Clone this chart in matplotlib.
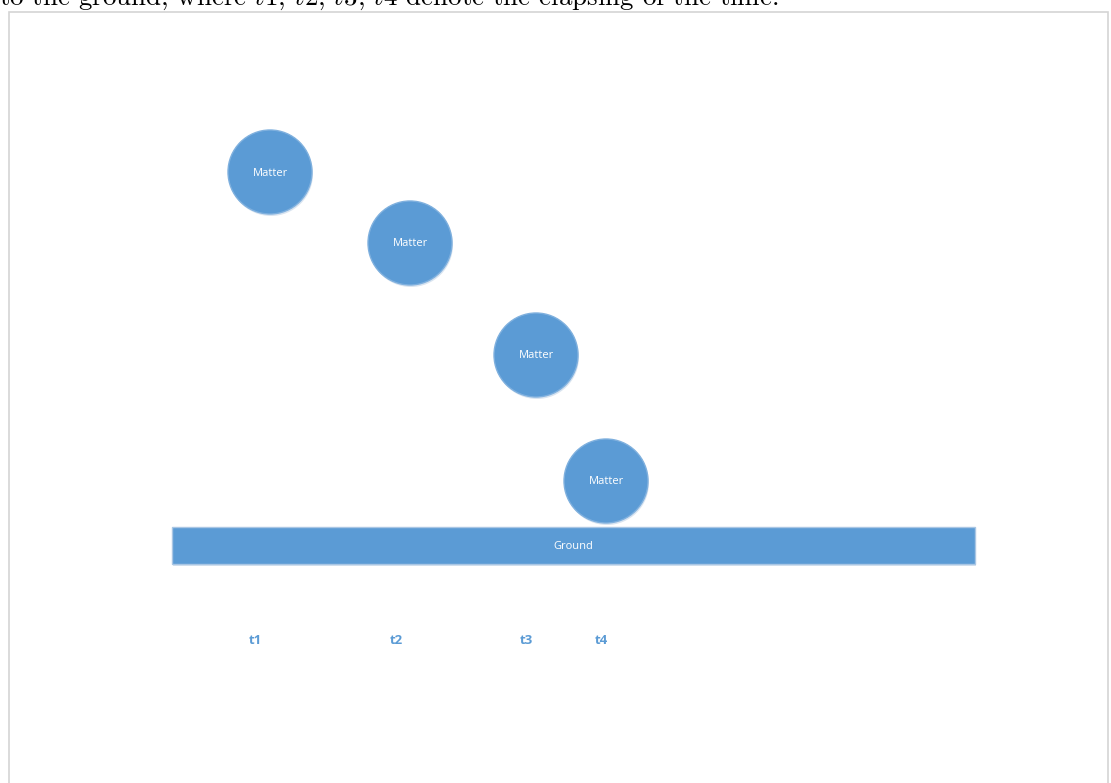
import matplotlib.pyplot as plt
from matplotlib.patches import Circle, Rectangle

# Diagram data (pixel space of the original picture)
matter_x = [270, 410, 536, 606]
matter_y = [172, 243, 355, 481]
matter_r = 42
matter_label = "Matter"

ground_left, ground_right = 172, 975
ground_top, ground_bottom = 527, 564
ground_label = "Ground"

time_labels = ["t1", "t2", "t3", "t4"]
time_x = [255, 396, 526, 601]
time_y = 639

caption = r"to the ground, where $t1$, $t2$, $t3$, $t4$ denote the elapsing of the time."

blue = "#5b9bd5"

plt.rcParams["mathtext.fontset"] = "cm"

fig = plt.figure(figsize=(11.11, 7.83), dpi=100)
ax = fig.add_axes([0, 0, 1, 1])
ax.set_xlim(0, 1111)
ax.set_ylim(783, 0)
ax.axis("off")

# frame of the figure box
ax.add_patch(Rectangle((9, 12), 1099, 800, facecolor="white",
                       edgecolor="#d4d4d4", linewidth=1.2))

# caption line, cut off by the top of the page as in the scan
ax.text(-1, 4.5, caption, fontsize=19.4, family="cmr10",
        math_fontfamily="cm", va="baseline", ha="left", color="black")

for x, y in zip(matter_x, matter_y):
    ax.add_patch(Circle((x + 1, y + 2), matter_r, facecolor="#c9d9ea",
                        edgecolor="none", alpha=0.7))
    ax.add_patch(Circle((x, y), matter_r, facecolor=blue,
                        edgecolor="#7fb0de", linewidth=1))
    ax.text(x, y + 1, matter_label, color="white", fontsize=8,
            family="Open Sans", ha="center", va="center")

w = ground_right - ground_left
h = ground_bottom - ground_top
ax.add_patch(Rectangle((ground_left + 1, ground_top + 2), w, h,
                       facecolor="#c9d9ea", edgecolor="none", alpha=0.7))
ax.add_patch(Rectangle((ground_left, ground_top), w, h, facecolor=blue,
                       edgecolor="#a9c6e4", linewidth=1))
ax.text((ground_left + ground_right) / 2, (ground_top + ground_bottom) / 2 + 1,
        ground_label, color="white", fontsize=8, family="Open Sans",
        ha="center", va="center")

for lab, x in zip(time_labels, time_x):
    ax.text(x, time_y + 1, lab, color=blue, fontsize=9.5, fontweight="bold",
            family="Open Sans", ha="center", va="center")

fig.savefig("out.png", dpi=100)
